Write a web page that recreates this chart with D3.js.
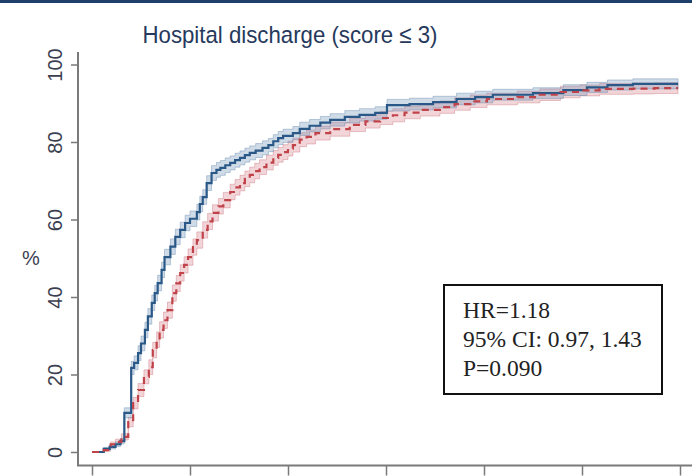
<!DOCTYPE html>
<html>
<head>
<meta charset="utf-8">
<script src="https://cdn.jsdelivr.net/npm/d3@7"></script>
<style>
  html, body { margin: 0; padding: 0; background: #ffffff; }
  svg { display: block; }
</style>
</head>
<body>
<svg id="chart" width="692" height="476"></svg>
<script>
// Cumulative incidence of hospital discharge, two arms (Kaplan–Meier style steps)
const titleText = "Hospital discharge (score \u2264 3)";
const yTicks = [0, 20, 40, 60, 80, 100];
const xTicks = [0, 10, 20, 30, 40, 50, 60];
const followUpEnd = 59.8;

// Arm A (solid blue)
const armATime = [0,1.2,1.8,2.4,2.9,3.3,4.0,4.3,4.7,5.0,
  5.4,5.7,6.1,6.4,6.7,7.1,7.4,8.0,8.5,9.0,
  9.5,10.0,10.7,11.0,11.3,11.7,12.2,12.7,13.1,13.6,
  14.1,14.6,15.1,15.6,16.1,16.7,17.4,18.0,18.5,19.0,
  19.5,20.5,21.2,22.2,23.3,24.3,25.8,27.3,28.9,30.1,
  32.4,34.8,37.2,39.1,40.9,45.0,48.1,50.5,52.6,55.2];
const armAPct = [0,0.8,1.3,2.0,2.8,10.1,21.7,23.0,25.5,28.0,
  31.5,35.0,38.5,41.0,43.6,47.0,50.3,53.0,55.5,57.3,
  59.1,60.2,61.9,64.0,65.8,69.4,72.0,72.8,73.3,74.0,
  74.6,75.3,75.9,76.6,77.2,77.8,78.5,79.2,80.2,81.0,
  81.6,82.3,83.4,84.2,85.0,85.7,86.5,87.0,87.5,89.5,
  89.8,90.3,91.1,91.6,92.2,92.6,93.4,94.1,94.7,95.0];
const armACiHalf = [0,0.4,0.5,0.6,0.7,1.3,1.7,1.8,1.9,1.9,
  2.0,2.0,2.0,2.0,2.0,2.0,2.0,2.0,2.0,2.0,
  2.0,2.0,2.0,2.0,1.9,1.9,1.9,1.9,1.9,1.9,
  1.8,1.8,1.8,1.8,1.8,1.8,1.8,1.7,1.7,1.7,
  1.7,1.7,1.7,1.6,1.6,1.6,1.6,1.6,1.6,1.5,
  1.5,1.5,1.5,1.5,1.4,1.4,1.4,1.3,1.3,1.3];

// Arm B (dashed red)
const armBTime = [0,1.2,1.9,2.4,3.0,3.7,4.2,4.7,5.3,5.8,
  6.2,6.6,6.9,7.3,7.7,8.2,8.6,9.0,9.4,9.8,
  10.3,10.7,11.3,11.8,12.3,12.9,13.4,14.1,14.6,15.1,
  15.6,16.1,16.6,17.1,17.8,18.5,19.0,19.5,20.0,20.5,
  21.2,21.9,22.8,24.3,26.3,27.9,29.4,30.7,31.9,33.5,
  35.5,37.0,38.6,40.3,43.4,45.7,47.8,49.8,51.8,55.2,
  57.4];
const armBPct = [0,0.5,2.0,2.6,3.9,7.7,12.6,16.0,19.4,21.9,
  26.3,29.0,31.5,34.0,36.6,41.0,43.5,46.2,48.3,50.3,
  52.9,54.7,57.3,59.5,61.7,63.4,65.0,67.1,68.3,69.4,
  70.5,71.5,72.5,73.5,74.7,75.9,76.7,77.4,78.3,79.2,
  80.6,81.3,82.3,83.3,84.4,85.3,86.2,86.9,87.6,88.3,
  89.0,89.8,90.5,91.1,91.6,92.2,92.9,93.3,93.7,93.8,
  93.9];
const armBCiHalf = [0,0.3,0.6,0.7,0.8,1.2,1.5,1.7,1.8,1.9,
  2.0,2.0,2.1,2.1,2.1,2.1,2.1,2.1,2.1,2.1,
  2.1,2.1,2.1,2.1,2.1,2.0,2.0,2.0,2.0,2.0,
  2.0,2.0,2.0,1.9,1.9,1.9,1.9,1.9,1.9,1.8,
  1.8,1.8,1.8,1.8,1.7,1.7,1.7,1.7,1.6,1.6,
  1.6,1.6,1.6,1.5,1.5,1.5,1.5,1.4,1.4,1.4,
  1.4];

const statsLines = ["HR=1.18", "95% CI: 0.97, 1.43", "P=0.090"];

const svg = d3.select("#chart");
const W = 692, H = 476;

// top rule
svg.append("rect").attr("x", 0).attr("y", 0).attr("width", W).attr("height", 3)
  .attr("fill", "#1f3f6b");

const x = d3.scaleLinear().domain([0, 60]).range([92, 680]);
const y = d3.scaleLinear().domain([0, 100]).range([452, 64.5]);

const axisColor = "#7a7a7a";
const labelColor = "#3b4050";

// axis lines
svg.append("line").attr("x1", 78).attr("x2", 78).attr("y1", 52).attr("y2", 466)
  .attr("stroke", axisColor).attr("stroke-width", 2);
svg.append("line").attr("x1", 77).attr("x2", W).attr("y1", 465.5).attr("y2", 465.5)
  .attr("stroke", axisColor).attr("stroke-width", 2);

// y axis ticks and rotated labels
const yAxis = svg.append("g").attr("transform", "translate(78,0)")
  .call(d3.axisLeft(y).tickValues(yTicks).tickSize(7).tickPadding(0).tickSizeOuter(0));
yAxis.select(".domain").remove();
yAxis.selectAll(".tick line").attr("stroke", axisColor).attr("stroke-width", 1.5);
yAxis.selectAll(".tick text")
  .attr("x", 0).attr("dy", 0)
  .attr("transform", "translate(-16,0) rotate(-90)")
  .attr("text-anchor", "middle")
  .attr("fill", labelColor)
  .style("font-family", "'Liberation Sans', Arial, sans-serif")
  .style("font-size", "20px");

// x axis ticks (labels fall below the frame)
const xAxis = svg.append("g").attr("transform", "translate(0,465.5)")
  .call(d3.axisBottom(x).tickValues(xTicks).tickSize(10).tickFormat(""));
xAxis.select(".domain").remove();
xAxis.selectAll(".tick line").attr("stroke", axisColor).attr("stroke-width", 1.5);

// y axis title
svg.append("text").attr("x", 31).attr("y", 265).attr("text-anchor", "middle")
  .attr("fill", labelColor)
  .style("font-family", "'Liberation Sans', Arial, sans-serif")
  .style("font-size", "20px").text("%");

// title
svg.append("text").attr("x", 290).attr("y", 43).attr("text-anchor", "middle")
  .attr("fill", "#26395c")
  .attr("textLength", 295).attr("lengthAdjust", "spacingAndGlyphs")
  .style("font-family", "'Liberation Sans', Arial, sans-serif")
  .style("font-size", "24.5px").text(titleText);

function series(times, pct, half) {
  const pts = times.map((t, i) => ({ t, p: pct[i], h: half[i] }));
  const last = pts[pts.length - 1];
  pts.push({ t: followUpEnd, p: last.p, h: last.h });
  return pts;
}
const armA = series(armATime, armAPct, armACiHalf);
const armB = series(armBTime, armBPct, armBCiHalf);

const band = d3.area().curve(d3.curveStepAfter)
  .x(d => x(d.t)).y0(d => y(Math.max(0, d.p - d.h))).y1(d => y(d.p + d.h));
const line = d3.line().curve(d3.curveStepAfter).x(d => x(d.t)).y(d => y(d.p));

svg.append("path").datum(armB).attr("d", band)
  .attr("fill", "#d9808a").attr("fill-opacity", 0.33)
  .attr("stroke", "#c8707a").attr("stroke-opacity", 0.4).attr("stroke-width", 1);
svg.append("path").datum(armA).attr("d", band)
  .attr("fill", "#6f93b8").attr("fill-opacity", 0.33)
  .attr("stroke", "#5f84aa").attr("stroke-opacity", 0.4).attr("stroke-width", 1);

svg.append("path").datum(armA).attr("d", line)
  .attr("fill", "none").attr("stroke", "#2a5887").attr("stroke-width", 2.2);
svg.append("path").datum(armB).attr("d", line)
  .attr("fill", "none").attr("stroke", "#c0434a").attr("stroke-width", 2.2)
  .attr("stroke-dasharray", "7,5");

// statistics box
svg.append("rect").attr("x", 444).attr("y", 285).attr("width", 218).attr("height", 109)
  .attr("fill", "#ffffff").attr("stroke", "#111111").attr("stroke-width", 2);
svg.append("g").selectAll("text").data(statsLines).join("text")
  .attr("x", 463).attr("y", (d, i) => 318 + i * 29)
  .attr("fill", "#222222")
  .style("font-family", "'Liberation Serif', 'Times New Roman', serif")
  .style("font-size", "23.5px")
  .text(d => d);
</script>
</body>
</html>
